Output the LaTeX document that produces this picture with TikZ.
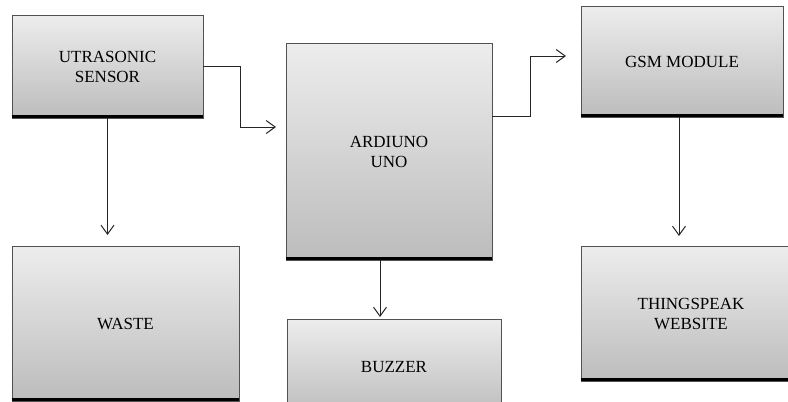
\documentclass[tikz,border=0pt]{standalone}
\usepackage{fontspec}
\setmainfont{Liberation Serif}
\usetikzlibrary{arrows.meta}
\tikzset{
  blockbox/.style={draw=black!68, line width=0.9pt,
    top color={rgb,255:red,237;green,237;blue,237},
    bottom color={rgb,255:red,188;green,188;blue,188},
    inner sep=0pt, align=center, text=black,
    font=\fontsize{17}{20}\selectfont},
  bottomedge/.style={line width=3pt, black},
  arr/.style={line width=1pt, black!85, -{Straight Barb[length=9pt,width=13pt,line width=1pt]}}
}
\begin{document}
\begin{tikzpicture}[x=1pt,y=-1pt]
\useasboundingbox (0,0) rectangle (788,402);
\clip (0,0) rectangle (788,402);
\fill[white] (0,0) rectangle (788,402);
% boxes
\node[blockbox, minimum width=191pt, minimum height=103pt] (us) at (107.5,66.5) {UTRASONIC\\SENSOR};
\node[blockbox, minimum width=206pt, minimum height=217pt] (ard) at (389,151.5) {ARDIUNO\\UNO};
\node[blockbox, minimum width=202pt, minimum height=111pt] (gsm) at (682,61.5) {GSM MODULE};
\node[blockbox, minimum width=227pt, minimum height=155pt] (waste) at (125.5,323.5) {WASTE};
\node[blockbox, minimum width=214pt, minimum height=97pt] (buz) at (394,367.5) {BUZZER};
\node[blockbox, minimum width=220pt, minimum height=135pt] (ts) at (691,313.5) {THINGSPEAK\\WEBSITE};
% thick bottom edges
\foreach \b in {us,ard,gsm,waste,buz,ts}{
  \draw[bottomedge] ([yshift=1.5pt]\b.south west) -- ([yshift=1.5pt]\b.south east);
}
% connector points
\coordinate (c1) at (240,127);
\coordinate (t1) at (276,127);
\coordinate (t2) at (108,235);
\coordinate (c3a) at (530,116);
\coordinate (c3b) at (530,56);
\coordinate (t3) at (566,56);
\coordinate (t4) at (380,317);
\coordinate (t5) at (679,236);
% connectors
\draw[arr] (us.east) -| (c1) -- (t1);
\draw[arr] (us.south) -- (us.south |- t2);
\draw[arr] (ard.east |- c3a) -- (c3a) -- (c3b) -- (t3);
\draw[arr] (ard.south -| t4) -- (t4);
\draw[arr] (gsm.south -| t5) -- (t5);
\end{tikzpicture}
\end{document}
